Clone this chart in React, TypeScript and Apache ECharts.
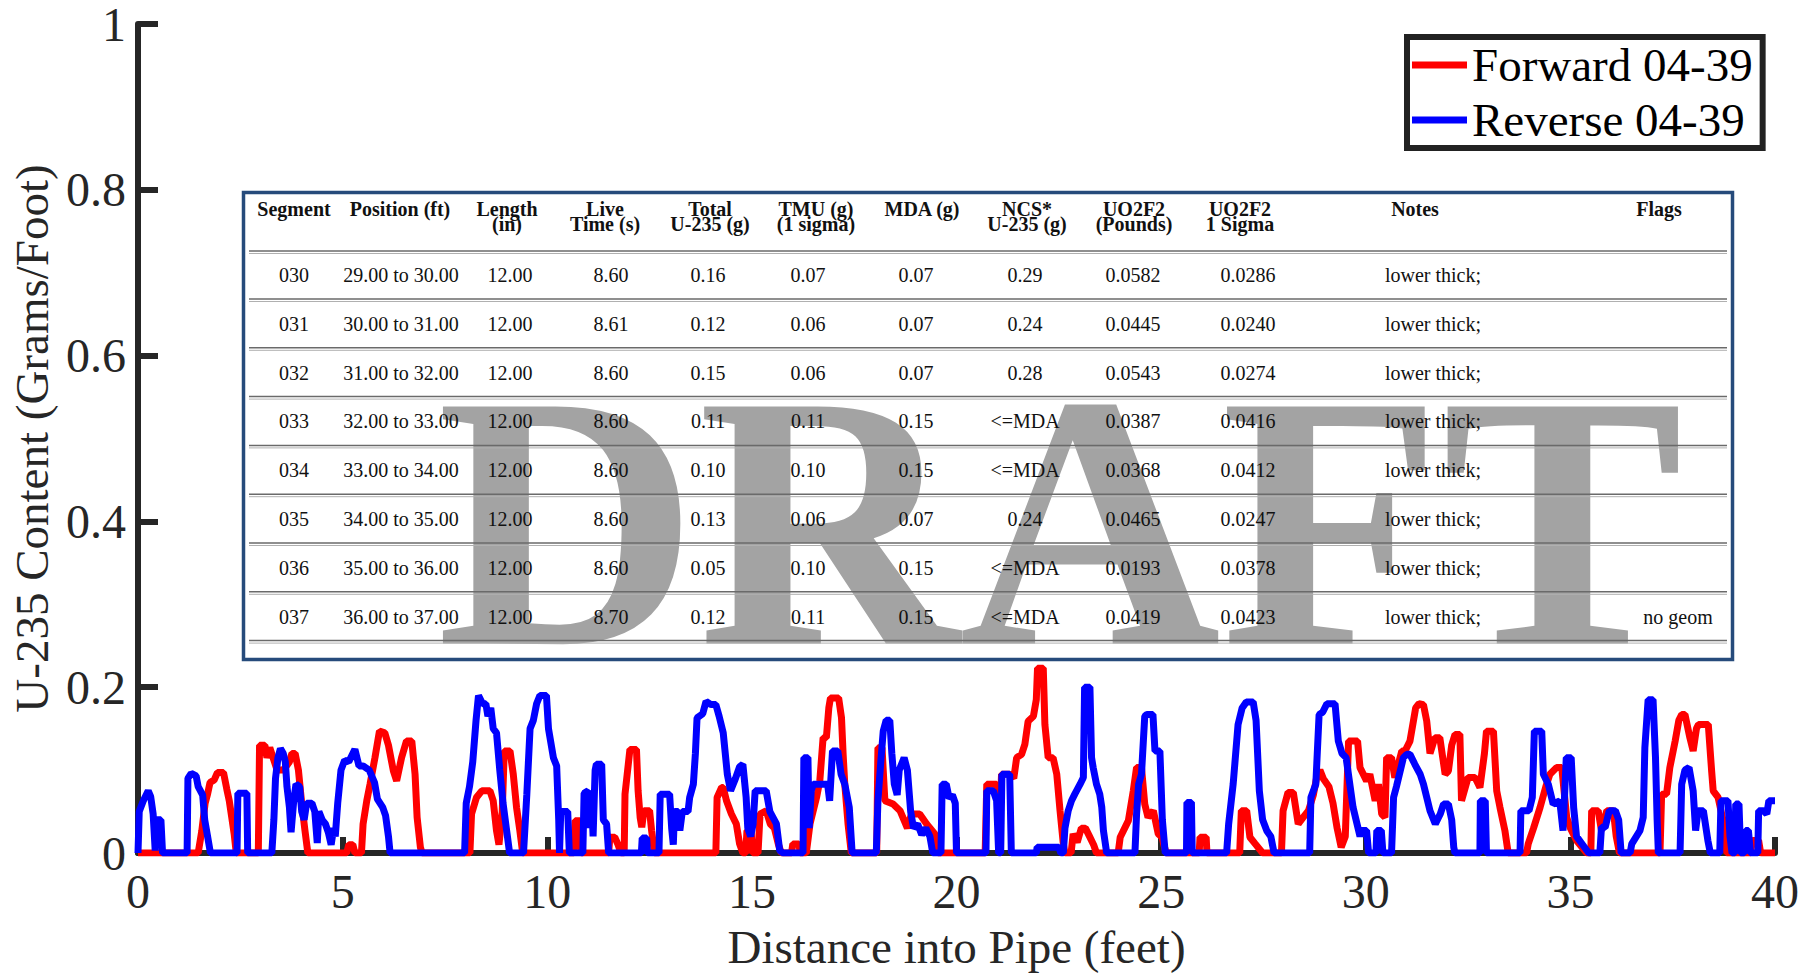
import React, { useEffect, useRef } from 'react';
import * as echarts from 'echarts';

// Forward 04-39 (red): [distance ft, grams/foot]
const forward: [number, number][] = [
  [0,0],[1.47,0],[1.56,0.027],[1.64,0.06],[1.7,0.071],[1.76,0.085],[1.86,0.088],[1.94,0.097],[2.09,0.097],[2.17,0.077],[2.23,0.063],[2.29,0.043],[2.35,0.023],[2.4,0],
  [2.94,0],[2.97,0.13],[3.1,0.13],[3.15,0.115],[3.22,0.127],[3.3,0.115],[3.4,0.1],[3.55,0.1],[3.7,0.11],[3.76,0.12],[3.84,0.12],[3.92,0.1],[4.0,0.06],[4.08,0.027],[4.15,0],
  [5.1,0],[5.15,0.01],[5.25,0.01],[5.3,0],
  [5.46,0],[5.5,0.035],[5.59,0.063],[5.67,0.083],[5.79,0.115],[5.9,0.147],[6.03,0.145],[6.12,0.13],[6.24,0.099],[6.32,0.087],[6.44,0.115],[6.56,0.135],[6.69,0.135],[6.77,0.095],[6.82,0.043],[6.9,0.007],[6.94,0],
  [8.11,0],[8.15,0.047],[8.27,0.067],[8.4,0.075],[8.6,0.075],[8.68,0.063],[8.76,0.027],[8.82,0.01],[8.9,0.05],[8.95,0.123],[9.09,0.123],[9.17,0.095],[9.25,0.055],[9.33,0.027],[9.4,0],
  [10.65,0],[10.68,0.039],[10.8,0.039],[10.83,0],
  [11.5,0],[11.53,0.019],[11.65,0.019],[11.73,0.01],[11.8,0],
  [11.88,0],[11.9,0.071],[11.98,0.107],[12.02,0.125],[12.18,0.125],[12.22,0.075],[12.27,0.043],[12.31,0.031],[12.36,0.051],[12.5,0.051],[12.55,0.027],[12.62,0],
  [14.12,0],[14.15,0.067],[14.26,0.079],[14.3,0.079],[14.38,0.063],[14.5,0.047],[14.62,0.035],[14.7,0.011],[14.78,0],[14.85,0],[14.88,0.027],[14.98,0.027],[15.02,0],[15.15,0],[15.2,0.047],[15.35,0.051],[15.45,0.035],[15.55,0.03],[15.65,0.01],[15.72,0],
  [15.97,0],[16.0,0.011],[16.15,0.011],[16.18,0],
  [16.33,0],[16.42,0.035],[16.58,0.067],[16.66,0.087],[16.74,0.139],[16.82,0.139],[16.88,0.175],[16.92,0.187],[17.12,0.187],[17.19,0.163],[17.23,0.119],[17.27,0.083],[17.35,0.035],[17.43,0],
  [18.05,0],[18.08,0.127],[18.18,0.127],[18.25,0.063],[18.45,0.059],[18.62,0.051],[18.8,0.03],[18.9,0.047],[19.1,0.047],[19.27,0.035],[19.47,0.023],[19.55,0],
  [20.7,0],[20.74,0.083],[20.98,0.083],[21.03,0.067],[21.07,0.05],[21.1,0.095],[21.3,0.095],[21.4,0.09],[21.47,0.115],[21.59,0.119],[21.67,0.131],[21.75,0.159],[21.88,0.165],[21.95,0.185],[21.98,0.223],[22.12,0.223],[22.16,0.155],[22.24,0.115],[22.36,0.115],[22.45,0.095],[22.53,0.051],[22.61,0.011],[22.65,0],
  [22.8,0],[22.85,0.023],[22.95,0.013],[23.05,0.03],[23.15,0.03],[23.25,0.02],[23.35,0.01],[23.42,0],
  [23.95,0],[24.0,0.019],[24.2,0.039],[24.32,0.075],[24.4,0.103],[24.52,0.103],[24.6,0.059],[24.68,0.043],[24.81,0.051],[24.93,0.023],[25.02,0.019],[25.12,0],
  [25.93,0],[25.95,0.019],[26.1,0.019],[26.12,0],
  [26.92,0],[26.96,0.051],[27.09,0.051],[27.17,0.019],[27.3,0.011],[27.48,0],
  [27.94,0],[27.98,0.051],[28.1,0.073],[28.23,0.073],[28.35,0.035],[28.47,0.043],[28.6,0.051],[28.72,0.07],[28.8,0.091],[28.88,0.1],[28.96,0.09],[29.1,0.08],[29.2,0.06],[29.3,0.03],[29.4,0.007],[29.5,0.02],[29.58,0.135],[29.8,0.135],[29.86,0.103],[30.02,0.087],[30.1,0.095],[30.23,0.063],[30.31,0.083],[30.39,0.047],[30.47,0.043],[30.51,0.115],[30.63,0.115],[30.71,0.091],[30.88,0.123],[30.96,0.123],[31.08,0.135],[31.22,0.175],[31.3,0.18],[31.41,0.179],[31.49,0.159],[31.57,0.12],[31.69,0.139],[31.81,0.139],[31.94,0.095],[32.02,0.099],[32.1,0.13],[32.18,0.143],[32.3,0.143],[32.34,0.063],[32.5,0.091],[32.67,0.091],[32.79,0.079],[32.9,0.12],[32.95,0.147],[33.12,0.147],[33.2,0.075],[33.28,0.055],[33.4,0.027],[33.48,0],
  [33.93,0],[33.97,0.011],[34.1,0.03],[34.26,0.055],[34.4,0.08],[34.5,0.095],[34.66,0.103],[34.79,0.103],[34.91,0.043],[35.0,0.03],[35.15,0.015],[35.4,0],[35.5,0],[35.52,0.051],[35.68,0.051],[35.76,0.027],[35.89,0.051],[36.05,0.051],[36.12,0.02],[36.2,0],
  [37.19,0],[37.23,0.071],[37.35,0.071],[37.43,0.103],[37.56,0.135],[37.65,0.16],[37.72,0.167],[37.8,0.167],[37.92,0.139],[38.0,0.123],[38.08,0.15],[38.13,0.155],[38.37,0.155],[38.45,0.1],[38.49,0.075],[38.61,0.067],[38.75,0.035],[38.82,0],
  [39.4,0],[39.45,0.015],[39.6,0.015],[39.65,0],[40,0]
];

// Reverse 04-39 (blue): [distance ft, grams/foot]
const reverse: [number, number][] = [
  [0,0],[0.03,0.05],[0.13,0.063],[0.25,0.075],[0.31,0.068],[0.37,0.047],[0.42,0.003],[0.45,0.04],[0.56,0.04],[0.6,0],
  [1.2,0],[1.22,0.09],[1.3,0.096],[1.42,0.093],[1.47,0.08],[1.58,0.07],[1.63,0.04],[1.7,0.02],[1.77,0],
  [2.42,0],[2.44,0.072],[2.66,0.072],[2.68,0],
  [3.27,0],[3.32,0.04],[3.36,0.09],[3.42,0.115],[3.48,0.126],[3.55,0.12],[3.6,0.11],[3.64,0.08],[3.7,0.055],[3.74,0.025],[3.8,0.06],[3.86,0.083],[3.95,0.08],[4.0,0.05],[4.06,0.04],[4.12,0.06],[4.25,0.06],[4.32,0.05],[4.38,0.012],[4.42,0.05],[4.5,0.04],[4.58,0.035],[4.65,0.025],[4.72,0.01],[4.78,0.03],[4.82,0.02],[4.88,0.06],[4.96,0.1],[5.05,0.112],[5.15,0.11],[5.3,0.125],[5.4,0.105],[5.5,0.105],[5.65,0.1],[5.78,0.085],[5.85,0.065],[5.98,0.055],[6.05,0.045],[6.12,0.02],[6.16,0],
  [7.98,0],[8.02,0.06],[8.1,0.08],[8.18,0.11],[8.26,0.16],[8.32,0.19],[8.42,0.18],[8.5,0.18],[8.55,0.165],[8.62,0.175],[8.68,0.15],[8.76,0.145],[8.84,0.1],[8.92,0.06],[9.0,0.03],[9.08,0],
  [9.42,0],[9.5,0.07],[9.58,0.15],[9.66,0.16],[9.74,0.18],[9.82,0.19],[9.98,0.19],[10.03,0.15],[10.15,0.115],[10.23,0.105],[10.28,0.04],[10.3,0],[10.33,0.05],[10.5,0.05],[10.54,0],
  [10.87,0],[10.9,0.072],[11.0,0.075],[11.05,0.03],[11.08,0.072],[11.12,0.02],[11.17,0.1],[11.2,0.107],[11.33,0.107],[11.37,0.04],[11.45,0.035],[11.5,0],
  [12.3,0],[12.32,0.018],[12.43,0.018],[12.45,0],
  [12.73,0],[12.76,0.071],[12.99,0.071],[13.04,0.03],[13.08,0.01],[13.11,0.05],[13.2,0.05],[13.24,0.027],[13.3,0.05],[13.44,0.05],[13.48,0.067],[13.57,0.083],[13.62,0.12],[13.66,0.163],[13.8,0.168],[13.88,0.183],[14.0,0.179],[14.12,0.179],[14.2,0.165],[14.3,0.145],[14.4,0.095],[14.48,0.075],[14.6,0.09],[14.7,0.104],[14.78,0.107],[14.86,0.067],[14.9,0.03],[14.97,0.02],[15.03,0.035],[15.08,0.075],[15.35,0.075],[15.44,0.05],[15.6,0.035],[15.68,0.003],[15.76,0],
  [16.25,0],[16.27,0.115],[16.37,0.115],[16.4,0.03],[16.45,0.075],[16.5,0.083],[16.85,0.083],[16.9,0.063],[16.97,0.123],[17.1,0.123],[17.18,0.095],[17.27,0.083],[17.38,0.055],[17.45,0],
  [18.04,0],[18.08,0.063],[18.15,0.11],[18.21,0.147],[18.28,0.16],[18.37,0.16],[18.42,0.12],[18.48,0.083],[18.55,0.07],[18.6,0.1],[18.72,0.115],[18.8,0.1],[18.88,0.05],[18.95,0.03],[19.05,0.035],[19.15,0.022],[19.25,0.03],[19.35,0.02],[19.42,0],
  [19.62,0],[19.65,0.083],[19.75,0.083],[19.82,0.066],[19.9,0.07],[19.97,0.06],[20.0,0],
  [20.72,0],[20.74,0.075],[20.9,0.075],[20.98,0.063],[21.03,0],[21.08,0],[21.11,0.095],[21.3,0.095],[21.34,0],
  [21.95,0],[21.97,0.007],[22.5,0.007],[22.55,0],
  [22.61,0],[22.65,0.03],[22.73,0.051],[22.81,0.063],[22.89,0.071],[23.02,0.083],[23.1,0.091],[23.13,0.2],[23.26,0.2],[23.3,0.115],[23.34,0.103],[23.42,0.083],[23.5,0.071],[23.55,0.055],[23.59,0.027],[23.67,0],
  [24.36,0],[24.4,0.047],[24.45,0.083],[24.52,0.095],[24.6,0.165],[24.65,0.167],[24.8,0.167],[24.85,0.123],[24.97,0.123],[25.03,0.04],[25.1,0],
  [25.62,0],[25.63,0.061],[25.74,0.061],[25.76,0],
  [26.6,0],[26.65,0.035],[26.76,0.083],[26.88,0.155],[26.98,0.175],[27.08,0.182],[27.25,0.182],[27.32,0.16],[27.4,0.075],[27.48,0.04],[27.58,0.027],[27.68,0.02],[27.76,0],
  [28.63,0],[28.66,0.067],[28.78,0.083],[28.86,0.167],[28.95,0.17],[29.05,0.18],[29.25,0.18],[29.33,0.135],[29.42,0.12],[29.52,0.115],[29.69,0.055],[29.86,0.02],[29.9,0.027],[30.02,0.027],[30.07,0],[30.25,0],[30.27,0.027],[30.38,0.027],[30.42,0],
  [30.63,0],[30.68,0.067],[30.75,0.08],[30.92,0.115],[31.0,0.119],[31.08,0.119],[31.2,0.107],[31.33,0.095],[31.41,0.083],[31.49,0.067],[31.57,0.051],[31.7,0.035],[31.82,0.047],[31.9,0.059],[32.02,0.059],[32.1,0.04],[32.15,0.007],[32.18,0],
  [32.79,0],[32.8,0.063],[32.92,0.063],[32.95,0],
  [33.77,0],[33.79,0.051],[33.99,0.051],[34.07,0.067],[34.12,0.147],[34.3,0.147],[34.34,0.095],[34.46,0.083],[34.58,0.059],[34.74,0.063],[34.82,0.027],[34.9,0.115],[35.02,0.115],[35.08,0.055],[35.15,0.02],[35.3,0.01],[35.45,0],
  [35.72,0],[35.76,0.031],[35.85,0.031],[35.95,0.051],[36.1,0.051],[36.18,0.04],[36.24,0],
  [36.46,0],[36.5,0.011],[36.7,0.027],[36.78,0.043],[36.82,0.127],[36.9,0.185],[37.02,0.185],[37.08,0.115],[37.12,0.04],[37.15,0],
  [37.68,0],[37.72,0.083],[37.8,0.1],[37.9,0.103],[38.0,0.075],[38.06,0.027],[38.12,0.051],[38.25,0.051],[38.36,0.015],[38.42,0],
  [38.65,0],[38.68,0.063],[38.85,0.063],[38.9,0.02],[38.95,0],[39.02,0],[39.04,0.059],[39.12,0.059],[39.16,0],[39.25,0],[39.28,0.027],[39.35,0.027],[39.4,0],[39.58,0],[39.6,0.051],[39.72,0.051],[39.8,0.047],[39.85,0.063],[40.0,0.063]
];

// Inset table
const headerLine1 = ['Segment', 'Position (ft)', 'Length', 'Live', 'Total', 'TMU (g)', 'MDA (g)', 'NCS*', 'UO2F2', 'UO2F2', 'Notes', 'Flags'];
const headerLine2 = ['', '', '(in)', 'Time (s)', 'U-235 (g)', '(1 sigma)', '', 'U-235 (g)', '(Pounds)', '1 Sigma', '', ''];
const segments = ['030', '031', '032', '033', '034', '035', '036', '037'];
const positions = ['29.00 to 30.00', '30.00 to 31.00', '31.00 to 32.00', '32.00 to 33.00', '33.00 to 34.00', '34.00 to 35.00', '35.00 to 36.00', '36.00 to 37.00'];
const lengths = ['12.00', '12.00', '12.00', '12.00', '12.00', '12.00', '12.00', '12.00'];
const liveTimes = ['8.60', '8.61', '8.60', '8.60', '8.60', '8.60', '8.60', '8.70'];
const totals = ['0.16', '0.12', '0.15', '0.11', '0.10', '0.13', '0.05', '0.12'];
const tmus = ['0.07', '0.06', '0.06', '0.11', '0.10', '0.06', '0.10', '0.11'];
const mdas = ['0.07', '0.07', '0.07', '0.15', '0.15', '0.07', '0.15', '0.15'];
const ncsValues = ['0.29', '0.24', '0.28', '<=MDA', '<=MDA', '0.24', '<=MDA', '<=MDA'];
const pounds = ['0.0582', '0.0445', '0.0543', '0.0387', '0.0368', '0.0465', '0.0193', '0.0419'];
const sigmas = ['0.0286', '0.0240', '0.0274', '0.0416', '0.0412', '0.0247', '0.0378', '0.0423'];
const notes = ['lower thick;', 'lower thick;', 'lower thick;', 'lower thick;', 'lower thick;', 'lower thick;', 'lower thick;', 'lower thick;'];
const flags = ['', '', '', '', '', '', '', 'no geom'];

const FONT = '"Liberation Serif", "Times New Roman", serif';

function buildGraphic() {
  const els: any[] = [];
  els.push({
    type: 'rect', z: 10, silent: true,
    shape: { x: 243.5, y: 192.5, width: 1489, height: 467 },
    style: { fill: '#ffffff', stroke: '#264b7b', lineWidth: 3.5 },
  });
  els.push({
    type: 'text', z: 11, silent: true, x: 1060, y: 521,
    style: { text: 'DRAFT', fill: '#a3a3a3', font: `bold 362px ${FONT}`, textAlign: 'center', textVerticalAlign: 'middle' },
  });
  const sepLine = (y: number) => {
    els.push({ type: 'line', z: 12, silent: true, shape: { x1: 249, y1: y, x2: 1727, y2: y }, style: { stroke: '#6a6a6a', lineWidth: 1.5 } });
    els.push({ type: 'line', z: 12, silent: true, shape: { x1: 249, y1: y + 2.5, x2: 1727, y2: y + 2.5 }, style: { stroke: '#b0b0b0', lineWidth: 1 } });
  };
  sepLine(251);
  const headerX = [294, 400, 507, 605, 710, 816, 922, 1027, 1134, 1240, 1415, 1659];
  const valueX = [294, 401, 510, 611, 708, 808, 916, 1025, 1133, 1248, 1433, 1678];
  const txt = (text: string, x: number, y: number, bold: boolean) => {
    if (!text) return;
    els.push({
      type: 'text', z: 13, silent: true, x, y,
      style: { text, fill: '#111111', font: `${bold ? 'bold ' : ''}20px ${FONT}`, textAlign: 'center', textVerticalAlign: 'middle' },
    });
  };
  headerLine1.forEach((t, i) => txt(t, headerX[i], 209, true));
  headerLine2.forEach((t, i) => txt(t, headerX[i], 224, true));
  const cols = [segments, positions, lengths, liveTimes, totals, tmus, mdas, ncsValues, pounds, sigmas, notes, flags];
  segments.forEach((_, r) => {
    const y = 275 + r * 48.8;
    cols.forEach((col, c) => txt(col[r], valueX[c], y, false));
    sepLine(y + 24);
  });
  return els;
}

export default function App() {
  const ref = useRef<HTMLDivElement>(null);
  useEffect(() => {
    document.body.style.margin = '0';
    if (!ref.current) return;
    const chart = echarts.init(ref.current, undefined, { renderer: 'svg' });
    const axisColor = '#262626';
    chart.setOption({
      animation: false,
      backgroundColor: '#ffffff',
      grid: { left: 138, right: 43, top: 21, bottom: 124, containLabel: false },
      legend: {
        orient: 'vertical',
        left: 1407, top: 37,
        padding: [3, 10, 3, 5],
        borderColor: '#222222', borderWidth: 6,
        backgroundColor: '#ffffff',
        itemWidth: 55, itemHeight: 7, itemGap: 5,
        icon: 'rect',
        selectedMode: false,
        z: 20,
        textStyle: { fontSize: 47, fontFamily: FONT, color: '#000000', lineHeight: 50 },
        data: ['Forward 04-39', 'Reverse 04-39'],
      },
      xAxis: {
        type: 'value', min: 0, max: 40, interval: 5,
        name: 'Distance into Pipe (feet)', nameLocation: 'middle', nameGap: 70,
        nameTextStyle: { fontSize: 47, fontFamily: FONT, color: axisColor },
        axisLine: { show: true, onZero: false, lineStyle: { color: axisColor, width: 6 } },
        axisTick: { show: true, inside: true, length: 16, lineStyle: { color: axisColor, width: 6 } },
        axisLabel: { fontSize: 48, fontFamily: FONT, color: axisColor, margin: 14 },
        splitLine: { show: false },
      },
      yAxis: {
        type: 'value', min: 0, max: 1, interval: 0.2,
        name: 'U-235 Content (Grams/Foot)', nameLocation: 'middle', nameGap: 81,
        nameTextStyle: { fontSize: 47, fontFamily: FONT, color: axisColor },
        axisLine: { show: true, lineStyle: { color: axisColor, width: 6 } },
        axisTick: { show: true, inside: true, length: 20, lineStyle: { color: axisColor, width: 6 } },
        axisLabel: { fontSize: 48, fontFamily: FONT, color: axisColor, margin: 12, lineHeight: 38 },
        splitLine: { show: false },
      },
      series: [
        {
          name: 'Forward 04-39', type: 'line', data: forward, color: '#ff0000',
          showSymbol: false, symbol: 'none', z: 3,
          lineStyle: { color: '#ff0000', width: 7 },
        },
        {
          name: 'Reverse 04-39', type: 'line', data: reverse, color: '#0000ff',
          showSymbol: false, symbol: 'none', z: 4,
          lineStyle: { color: '#0000ff', width: 7 },
        },
      ],
      graphic: { elements: buildGraphic() },
    });
    return () => chart.dispose();
  }, []);
  return <div ref={ref} style={{ width: 1818, height: 977 }} />;
}
